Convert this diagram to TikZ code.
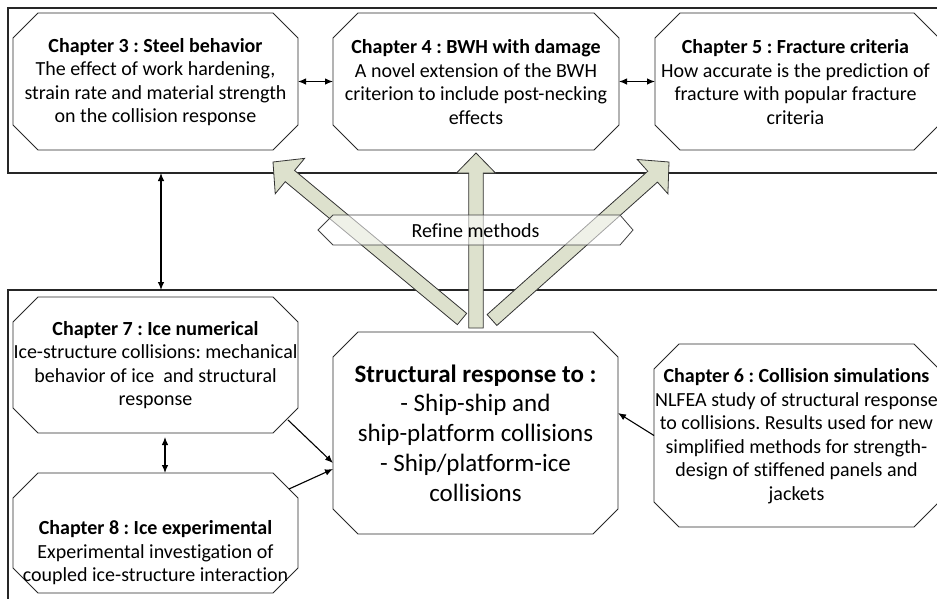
\documentclass[tikz,border=0pt]{standalone}
\usepackage{fontspec}
\setmainfont{Carlito}[Ligatures=NoCommon]
\usetikzlibrary{calc,arrows.meta}
\definecolor{arrowfill}{RGB}{221,225,205}
\definecolor{octline}{RGB}{40,40,40}
\tikzset{
  geom/.style={rectangle, inner sep=0pt, outer sep=0pt},
  octo/.style={draw=octline, line width=0.9pt, fill=white, line join=miter},
  txt/.style={align=center, font=\fontsize{20}{23.5}\selectfont\frenchspacing, inner sep=0pt},
  bigtxt/.style={align=center, font=\fontsize{25}{29.8}\selectfont\frenchspacing, inner sep=0pt},
  framebox/.style={geom, draw=black!85, line width=2pt},
  conn/.style={draw=black, line width=1.1pt, -{Latex[length=8pt,width=6.5pt]}},
  dconn/.style={draw=black, line width=1.1pt, {Latex[length=8pt,width=6.5pt]}-{Latex[length=8pt,width=6.5pt]}},
  bigarrow/.style={fill=arrowfill, draw=black!80, line width=0.8pt, line join=miter},
  refinebox/.style={fill=white, fill opacity=0.55, draw=black!75, line width=0.8pt},
}
% octagon around a geometry node
\newcommand\octof[1]{%
  \path[octo] ([xshift=25pt]#1.north west) -- ([xshift=-25pt]#1.north east)
    -- ([yshift=-25pt]#1.north east) -- ([yshift=25pt]#1.south east)
    -- ([xshift=-25pt]#1.south east) -- ([xshift=25pt]#1.south west)
    -- ([yshift=25pt]#1.south west) -- ([yshift=-25pt]#1.north west) -- cycle;}
% block arrow: tail, tip, head half width, head length
\newcommand\bigarr[4]{%
  \coordinate (#1h) at ($(#2)!#4!(#1)$);
  \path[bigarrow] ($(#1)!7.3pt!90:(#2)$) -- ($(#1h)!7.3pt!-90:(#1)$)
    -- ($(#1h)!#3!-90:(#1)$) -- (#2) -- ($(#1h)!#3!90:(#1)$)
    -- ($(#1h)!7.3pt!90:(#1)$) -- ($(#1)!7.3pt!-90:(#2)$) -- cycle;}
\begin{document}
\begin{tikzpicture}[x=1pt,y=-1pt]
\useasboundingbox (0,0) rectangle (937,598);
\clip (0,0) rectangle (937,598);
\fill[white] (0,0) rectangle (937,598);

% frames
\node[framebox, minimum width=952, minimum height=165, anchor=north west] (topframe) at (8,8) {};
\node[framebox, minimum width=952, minimum height=330, anchor=north west] (botframe) at (8,290) {};

% big arrows
\coordinate (Lt) at (462,319);
\coordinate (Lp) at (273,162);
\coordinate (Mt) at (476,328);
\coordinate (Mp) at (476,153);
\coordinate (Rt) at (492,320);
\coordinate (Rp) at (669,162);
\bigarr{Lt}{Lp}{23pt}{22pt}
\bigarr{Rt}{Rp}{23pt}{22pt}
\bigarr{Mt}{Mp}{19.5pt}{20pt}

% refine methods box
\node[geom, minimum width=315, minimum height=30] (refbox) at (475.5,230) {};
\path[refinebox] (refbox.west) -- ([xshift=15pt]refbox.north west) -- ([xshift=-13pt]refbox.north east)
  -- (refbox.east) -- ([xshift=-13pt]refbox.south east) -- ([xshift=15pt]refbox.south west) -- cycle;
\node[txt] (refine) at (475.5,231) {Refine methods};

% chapter boxes (geometry)
\node[geom, minimum width=285, minimum height=137] (ch3) at (155.5,81.5) {};
\node[geom, minimum width=286, minimum height=137] (ch4) at (476,81.5) {};
\node[geom, minimum width=284, minimum height=137] (ch5) at (797,81.5) {};
\node[geom, minimum width=285, minimum height=136] (ch7) at (155.5,365) {};
\node[geom, minimum width=285, minimum height=120] (ch8) at (155.5,533) {};
\node[geom, minimum width=285, minimum height=202] (ctr) at (475.5,433) {};
\node[geom, minimum width=285, minimum height=183] (ch6) at (796.5,435.5) {};
\octof{ch3}\octof{ch4}\octof{ch5}\octof{ch7}\octof{ch8}\octof{ctr}\octof{ch6}

% texts
\node[txt] (ch3t) at (155.5,82) {\textbf{Chapter 3 : Steel behavior}\\The effect of work hardening,\\strain rate and material strength\\on the collision response};
\node[txt] (ch4t) at (476,82) {\textbf{Chapter 4 : BWH with damage}\\A novel extension of the BWH\\criterion to include post-necking\\effects};
\node[txt] (ch5t) at (795.5,82) {\textbf{Chapter 5 : Fracture criteria}\\How accurate is the prediction of\\fracture with popular fracture\\criteria};
\node[txt] (ch7t) at (155.5,365) {\textbf{Chapter 7 : Ice numerical}\\Ice-structure collisions: mechanical\\behavior of ice \ and structural\\response};
\node[txt] (ch8t) at (155.5,553) {\textbf{Chapter 8 : Ice experimental}\\Experimental investigation of\\coupled ice-structure interaction};
\node[bigtxt] (ctrt) at (475.5,433) {\textbf{Structural response to :}\\- Ship-ship and\\ship-platform collisions\\- Ship/platform-ice\\collisions};
\node[txt] (ch6t) at (796.5,436) {\textbf{Chapter 6 : Collision simulations}\\NLFEA study of structural response\\to collisions. Results used for new\\simplified methods for strength-\\design of stiffened panels and\\jackets};

% connectors
\coordinate (vx) at (161,0);
\coordinate (vx2) at (165,0);
\draw[dconn] (ch3.east) -- (ch4.west);
\draw[dconn] (ch4.east) -- (ch5.west);
\draw[dconn] (topframe.south -| vx) -- (botframe.north -| vx);
\draw[dconn, shorten <=4pt] (ch7.south -| vx2) -- (ch8.north -| vx2);
\draw[conn] ([shift={(-10,-13)}]ch7.south east) -- ([shift={(0,30)}]ctr.west);
\draw[conn] ([shift={(-9,16)}]ch8.north east) -- ([shift={(0,36)}]ctr.west);
\draw[conn] (ch6.west) -- ([shift={(0,-20)}]ctr.east);
\end{tikzpicture}
\end{document}
